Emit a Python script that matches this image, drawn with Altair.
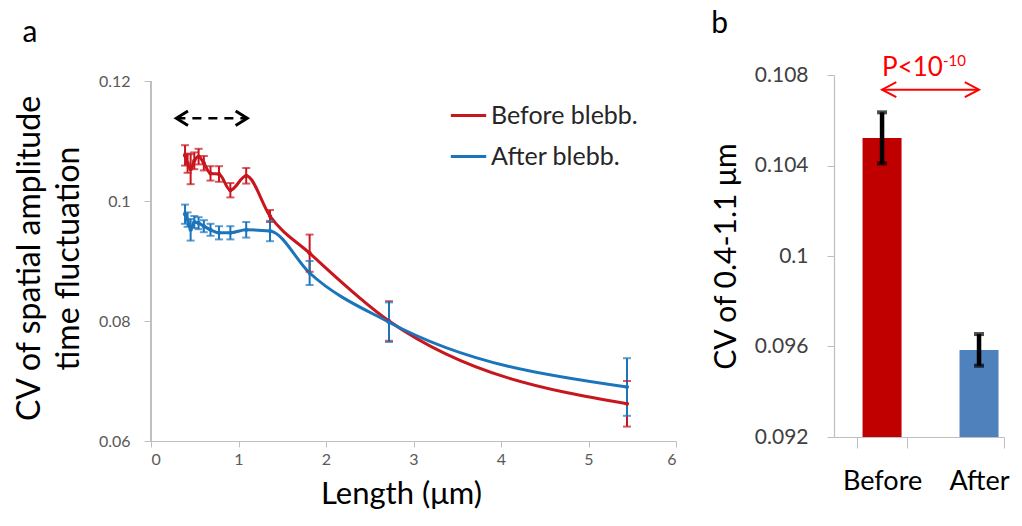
import altair as alt
import pandas as pd

# ---------------- data (panel a) ----------------
lengths = [5.44, 2.72, 1.813, 1.36, 1.088, 0.907, 0.777, 0.68, 0.604, 0.544, 0.495, 0.453, 0.418, 0.389]
before_mean = [0.0662, 0.0800, 0.0913, 0.0975, 0.1042, 0.1018, 0.1045, 0.1046, 0.1063, 0.1074, 0.1067, 0.1053, 0.1063, 0.1076]
before_err = [0.0038, 0.0033, 0.0031, 0.0010, 0.0013, 0.0012, 0.0013, 0.0012, 0.0012, 0.0013, 0.0014, 0.0025, 0.0016, 0.0017]
after_mean = [0.0690, 0.0798, 0.0880, 0.0950, 0.0952, 0.0947, 0.0947, 0.0952, 0.0958, 0.0963, 0.0965, 0.0952, 0.0969, 0.0978]
after_err = [0.0048, 0.0033, 0.0020, 0.0017, 0.0013, 0.0011, 0.0011, 0.0010, 0.0010, 0.0010, 0.0010, 0.0018, 0.0012, 0.0016]
series_names = ["Before blebb.", "After blebb."]
series_colors = ["#C8161E", "#1B75BC"]
a_ticks = [0.06, 0.08, 0.1, 0.12]
a_xticks = [0, 1, 2, 3, 4, 5, 6]

# dashed arrow range (µm) and its height
arrow_range = [0.29, 1.10]
arrow_level = 0.1138

# ---------------- data (panel b) ----------------
bar_cats = ["Before", "After"]
bar_vals = [0.10522, 0.09585]
bar_errs = [0.00113, 0.00070]
bar_colors = ["#C00000", "#4F81BD"]
b_ticks = [0.092, 0.096, 0.1, 0.104, 0.108]
pval_main = "P<10"
pval_sup = "-10"
pval_level = 0.10796
pval_sup_level = 0.10840
parrow_level = 0.10735

FONT = "Lato"

rows = []
for name, means, errs in [(series_names[0], before_mean, before_err),
                          (series_names[1], after_mean, after_err)]:
    for L, m, e in zip(lengths, means, errs):
        rows.append({"Length": L, "Value": m, "Err": e, "Series": name})
df_a = pd.DataFrame(rows)

# y domain extended a little above 0.12 so that panel b's top can sit higher
A_TOP = 0.12 + 6 * (0.06 / 360)

xa_scale = alt.Scale(domain=[0, 6], nice=False)
xa = alt.X("Length:Q", scale=xa_scale,
           axis=alt.Axis(values=a_xticks, format="d", title="Length (μm)",
                         titleFontSize=31, titlePadding=12, labelFontSize=16,
                         labelPadding=4, tickSize=6, titleX=250))
ya_scale = alt.Scale(domain=[0.06, A_TOP], nice=False, zero=False)
ya_axis = alt.Axis(values=a_ticks, format=".2~f", domain=False,
                   title=["CV of spatial amplitude", "time fluctuation"],
                   titleFontSize=32, titleLineHeight=39, titlePadding=13,
                   labelFontSize=16, labelPadding=14, tickSize=7)
cscale = alt.Scale(domain=series_names, range=series_colors)
color = alt.Color("Series:N", scale=cscale, sort=series_names,
                  legend=alt.Legend(orient="none", legendX=298, legendY=21, title=None,
                                    symbolType="stroke", symbolSize=1250,
                                    symbolStrokeWidth=3, labelFontSize=25,
                                    labelColor="#262626", rowPadding=8,
                                    labelOffset=3, labelFont=FONT))
ecol = alt.Color("Series:N", scale=cscale, legend=None)

base_a = alt.Chart(df_a)
lines = base_a.mark_line(interpolate="monotone", strokeWidth=3).encode(
    x=xa, y=alt.Y("Value:Q", scale=ya_scale, axis=ya_axis), color=color)
pts = base_a.mark_circle(size=18, opacity=1).encode(x="Length:Q", y="Value:Q", color=ecol)
err_base = base_a.transform_calculate(lo="datum.Value - datum.Err", hi="datum.Value + datum.Err")
erules = err_base.mark_rule(strokeWidth=2).encode(x="Length:Q", y="lo:Q", y2="hi:Q", color=ecol)
ecap_lo = err_base.mark_tick(orient="horizontal", size=8, thickness=2).encode(
    x="Length:Q", y="lo:Q", color=ecol)
ecap_hi = err_base.mark_tick(orient="horizontal", size=8, thickness=2).encode(
    x="Length:Q", y="hi:Q", color=ecol)
# y axis line only from 0.06 to 0.12
a_domain = alt.Chart(df_a).mark_rule(color="#BFBFBF", strokeWidth=1.2).encode(
    x=alt.X(datum=0, scale=xa_scale), y=alt.Y(datum=a_ticks[0], scale=ya_scale),
    y2=alt.Y2(datum=a_ticks[-1]))

df_arrow = pd.DataFrame({"Length": arrow_range, "Value": [arrow_level, arrow_level],
                         "Side": ["L", "R"]})
arr_line = alt.Chart(df_arrow).mark_line(color="black", strokeWidth=2.5,
                                         strokeDash=[9, 7]).encode(
    x="Length:Q", y="Value:Q")
arr_l = alt.Chart(df_arrow).transform_filter("datum.Side == 'L'").mark_point(
    shape="M1.6,-1L0,0L1.6,1", size=210, filled=False, color="black",
    strokeWidth=3, opacity=1).encode(x="Length:Q", y="Value:Q")
arr_r = alt.Chart(df_arrow).transform_filter("datum.Side == 'R'").mark_point(
    shape="M-1.6,-1L0,0L-1.6,1", size=210, filled=False, color="black",
    strokeWidth=3, opacity=1).encode(x="Length:Q", y="Value:Q")

panel_a = alt.layer(lines, a_domain, erules, ecap_lo, ecap_hi, pts, arr_line, arr_l, arr_r).properties(
    width=525, height=366,
    title=alt.TitleParams("a", anchor="start", frame="bounds", fontSize=30,
                          fontWeight="normal", font=FONT, color="#000000", offset=25, dx=9))

# ---------------- panel b ----------------
df_b = pd.DataFrame({"Cat": bar_cats, "Value": bar_vals, "Err": bar_errs})
bscale = alt.Scale(domain=bar_cats, paddingInner=0.485, paddingOuter=0.119, align=1)
xcat = alt.X("Cat:N", sort=bar_cats, scale=bscale)
xb = alt.X("Cat:N", sort=bar_cats, scale=bscale,
           axis=alt.Axis(title=None, labelAngle=0, labelFontSize=27, labelColor="#000000",
                         labelPadding=20, tickBand="extent", tickSize=11))
yb_scale = alt.Scale(domain=[b_ticks[0], b_ticks[-1]], nice=False)
yb_axis = alt.Axis(values=b_ticks, format=".3~f",
                   title="CV of 0.4-1.1 μm", titleFontSize=30, titlePadding=13,
                   labelFontSize=21, labelPadding=19, labelColor="#404040", tickSize=7)
base_b = alt.Chart(df_b)
bars = base_b.mark_bar(size=39).encode(
    x=xb, y=alt.Y("Value:Q", scale=yb_scale, axis=yb_axis), y2=alt.Y2(datum=b_ticks[0]),
    color=alt.Color("Cat:N", scale=alt.Scale(domain=bar_cats, range=bar_colors), legend=None))
eb_b = base_b.transform_calculate(lo="datum.Value - datum.Err", hi="datum.Value + datum.Err")
brules = eb_b.mark_rule(strokeWidth=4.5, color="black").encode(x=xcat, y="lo:Q", y2="hi:Q")
bcap_lo = eb_b.mark_tick(orient="horizontal", size=10, thickness=4, color="black").encode(x=xcat, y="lo:Q")
bcap_hi = eb_b.mark_tick(orient="horizontal", size=10, thickness=4, color="black").encode(x=xcat, y="hi:Q")

df_parrow = pd.DataFrame({"Cat": bar_cats, "Value": [parrow_level, parrow_level]})
parr = alt.Chart(df_parrow).mark_line(color="#FF0000", strokeWidth=2).encode(x=xcat, y="Value:Q")
parr_l = alt.Chart(df_parrow).transform_filter("datum.Cat == 'Before'").mark_point(
    shape="M1.9,-1L0,0L1.9,1", size=225, filled=False, color="#FF0000",
    strokeWidth=2, opacity=1).encode(x=xcat, y="Value:Q")
parr_r = alt.Chart(df_parrow).transform_filter("datum.Cat == 'After'").mark_point(
    shape="M-1.9,-1L0,0L-1.9,1", size=225, filled=False, color="#FF0000",
    strokeWidth=2, opacity=1).encode(x=xcat, y="Value:Q")

df_ptxt = pd.DataFrame({"Cat": ["Before"], "Value": [pval_level], "Sup": [pval_sup_level],
                        "Main": [pval_main], "SupT": [pval_sup]})
ptxt = alt.Chart(df_ptxt).mark_text(align="left", baseline="alphabetic", dx=0, fontSize=26,
                                    color="#FF0000", font=FONT).encode(
    x=xcat, y="Value:Q", text="Main:N")
ptxt_sup = alt.Chart(df_ptxt).mark_text(align="left", baseline="alphabetic", dx=61, fontSize=15,
                                        color="#FF0000", font=FONT).encode(
    x=xcat, y="Sup:Q", text="SupT:N")

panel_b = alt.layer(bars, brules, bcap_lo, bcap_hi, parr, parr_l, parr_r, ptxt, ptxt_sup).properties(
    width=170, height=362,
    title=alt.TitleParams("b", anchor="start", frame="bounds", fontSize=30,
                          fontWeight="normal", font=FONT, color="#000000", offset=15, dx=0))

chart = alt.hconcat(panel_a, panel_b, spacing=34).resolve_scale(
    color="independent"
).properties(
    padding={"left": 5, "top": 0, "right": 0, "bottom": 0}, background="white"
).configure_view(
    strokeWidth=0
).configure_axis(
    grid=False, domainColor="#BFBFBF", tickColor="#BFBFBF", domainWidth=1.2,
    labelColor="#595959", titleColor="#000000", labelFont=FONT, titleFont=FONT,
    titleFontWeight="normal"
)

chart.save("out.html", embed_options={"renderer": "svg", "actions": False})
